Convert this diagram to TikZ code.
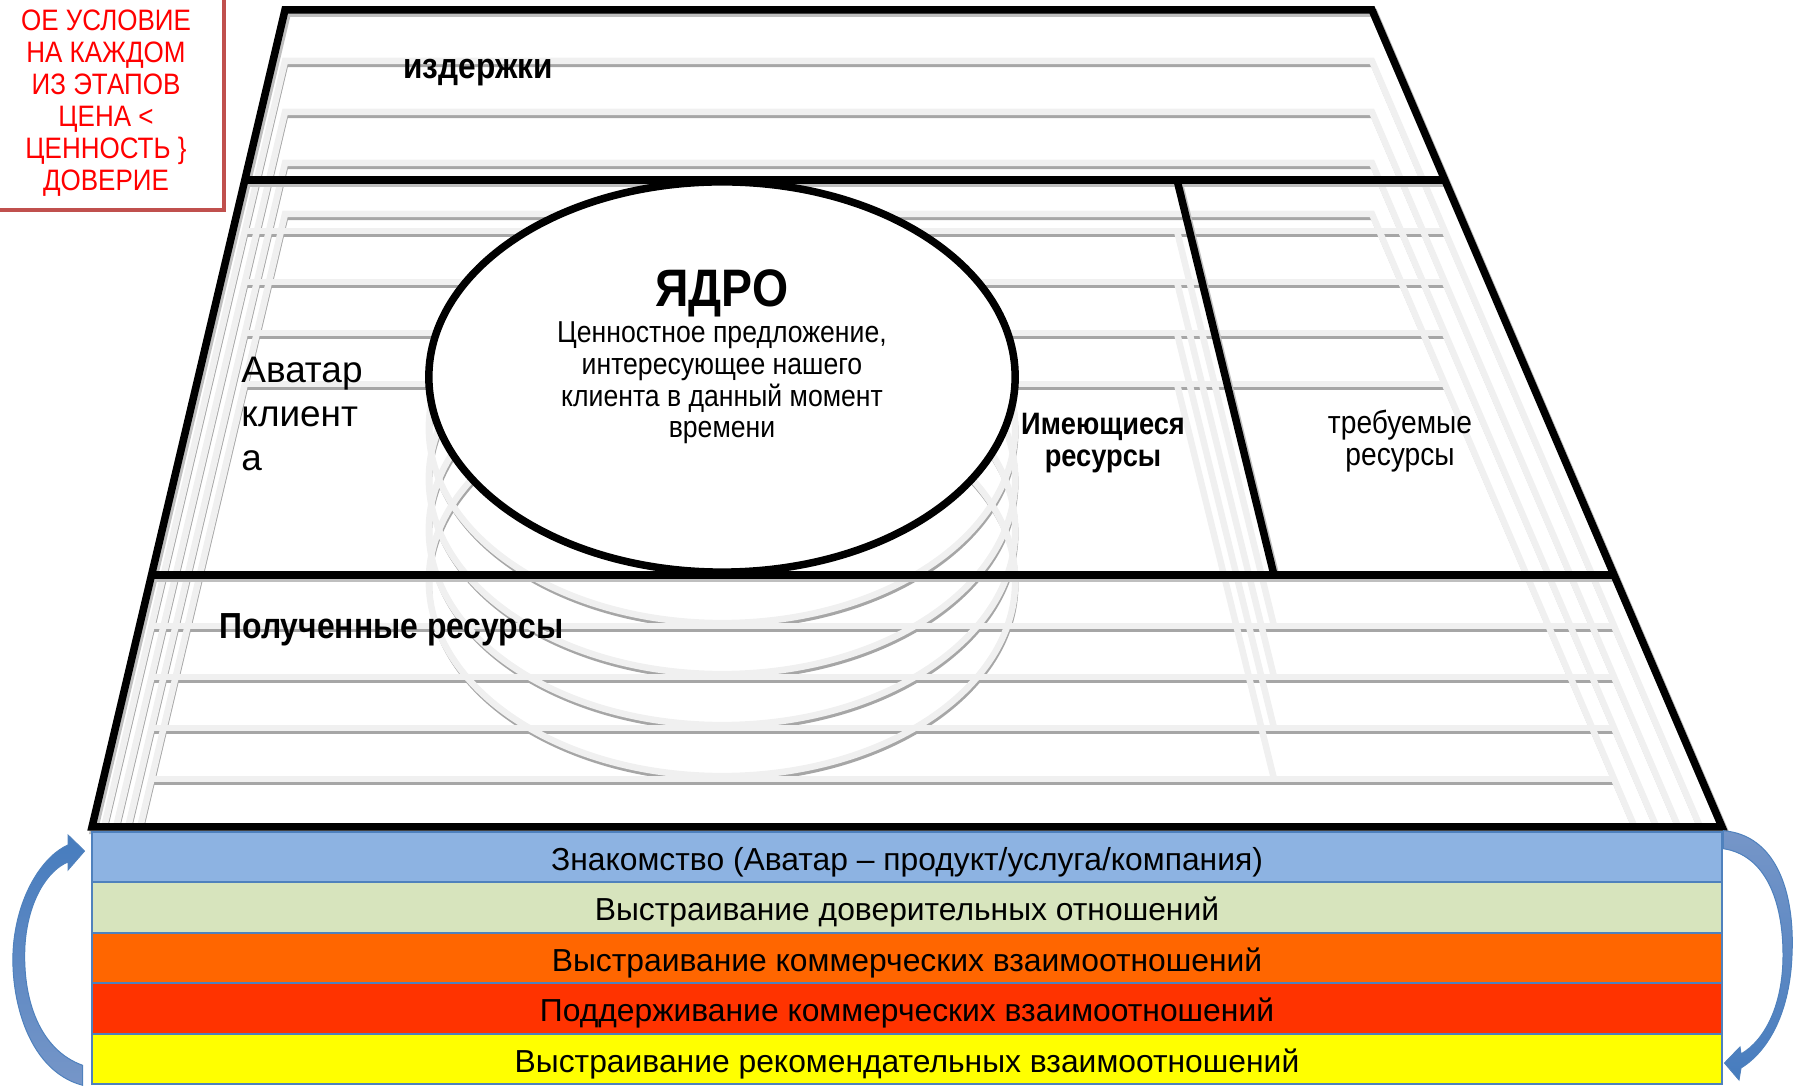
\documentclass[tikz,border=0pt]{standalone}
\usepackage{fontspec}
\setmainfont{Liberation Sans}
\newfontfamily\narrowfont[FakeStretch=0.88]{Liberation Sans}
\usetikzlibrary{shapes.geometric}

\definecolor{barblue}{RGB}{141,179,226}
\definecolor{bargreen}{RGB}{215,228,189}
\definecolor{barorange}{RGB}{255,102,0}
\definecolor{barred}{RGB}{255,51,0}
\definecolor{baryellow}{RGB}{255,255,0}
\definecolor{barline}{RGB}{79,129,189}
\definecolor{arrowblue}{RGB}{70,124,190}
\definecolor{arrowgray}{RGB}{118,150,200}
\definecolor{boxred}{RGB}{192,80,77}

% outline of the canvas, its cross lines and the core
\newcommand{\canvaslines}{%
  \draw (285,10) -- (1372,10) -- (1722,827) -- (92,827) -- cycle;
  \draw (246,180) -- (1447,180);
  \draw (153,575) -- (1613,575);
  \draw (1177,180) -- (1274,575);
  \draw (722,377) ellipse (2.93cm and 1.95cm);
}

\begin{document}
\begin{tikzpicture}[x=0.01cm, y=-0.01cm,
    frameline/.style={draw=black, line width=0.075cm},
    frameshade/.style={draw=black!25, line width=0.08cm},
    ghostline/.style={draw=black!6, line width=0.065cm},
    ghostshade/.style={draw=black!35, line width=0.045cm},
    stagebar/.style={draw=barline, line width=0.02cm, minimum width=16.3cm,
        minimum height=0.505cm, inner sep=0pt, text height=1.75ex, text depth=0.3ex,
        font=\fontsize{9.05}{11}\selectfont},
    cyclearrow/.style={draw=barline, line width=0.01cm},
    regionlabel/.style={font=\narrowfont\bfseries\fontsize{10.2}{11}\selectfont}]
    \useasboundingbox (0,0) rectangle (1800,1086);
    \clip (0,0) rectangle (1800,1086);

    % ghost copies of the canvas
    \begin{scope}
        \clip (285,10) -- (1372,10) -- (1722,827) -- (92,827) -- cycle;
        \foreach \k in {1,...,4} {
            \begin{scope}[shift={(1,\k*51+4)}, ghostshade]
                \canvaslines
            \end{scope}
        }
        \foreach \k in {1,...,4} {
            \begin{scope}[shift={(0,\k*51)}, ghostline]
                \canvaslines
            \end{scope}
        }
    \end{scope}

    % the canvas itself
    \begin{scope}[shift={(2,3)}, frameshade]
        \draw (285,10) -- (1372,10) -- (1722,827) -- (92,827) -- cycle;
        \draw (246,180) -- (1447,180);
        \draw (153,575) -- (1613,575);
        \draw (1177,180) -- (1274,575);
    \end{scope}
    \begin{scope}[frameline]
        \draw (285,10) -- (1372,10) -- (1722,827) -- (92,827) -- cycle;
        \draw (246,180) -- (1447,180);
        \draw (153,575) -- (1613,575);
        \draw (1177,180) -- (1274,575);
    \end{scope}
    \node[ellipse, draw, line width=0.075cm, fill=white, minimum width=5.86cm,
        minimum height=3.9cm, inner sep=0pt] (core) at (722,377) {};

    % labels of the canvas
    \node[regionlabel, anchor=west] (costs) at (391,73) {издержки};
    \node[font=\narrowfont\bfseries\fontsize{15}{17}\selectfont] (coretitle) at (722,293) {ЯДРО};
    \node[font=\narrowfont\fontsize{8.6}{9}\selectfont, align=center] (coretext) at (722,383)
        {Ценностное предложение,\\интересующее нашего\\клиента в данный момент\\времени};
    \node[font=\fontsize{10.5}{12.5}\selectfont, align=left, anchor=west] (avatar) at (229,414)
        {Аватар\\клиент\\а};
    \node[font=\narrowfont\bfseries\fontsize{8.8}{9}\selectfont, align=center] (have) at (1103,443)
        {Имеющиеся\\ресурсы};
    \node[font=\narrowfont\fontsize{9.1}{9}\selectfont, align=center] (need) at (1400,441)
        {требуемые\\ресурсы};
    \node[font=\narrowfont\bfseries\fontsize{10.3}{12}\selectfont, anchor=west] (got) at (207,630)
        {Полученные ресурсы};

    % stages
    \node[stagebar, fill=barblue] (acq) at (907,857) {Знакомство (Аватар – продукт/услуга/компания)};
    \node[stagebar, fill=bargreen] (trust) at (907,907.5) {Выстраивание доверительных отношений};
    \node[stagebar, fill=barorange] (comm) at (907,958) {Выстраивание коммерческих взаимоотношений};
    \node[stagebar, fill=barred] (keep) at (907,1008.5) {Поддерживание коммерческих взаимоотношений};
    \node[stagebar, fill=baryellow] (recom) at (907,1059) {Выстраивание рекомендательных взаимоотношений};

    % cycle arrows
    \path[cyclearrow, top color=arrowblue, bottom color=arrowgray]
        ([shift={(-8,0)}]recom.south west) .. controls (25,1070) and (8,990) .. (14,940)
        .. controls (20,890) and (45,855) .. (68,845) -- (68,835)
        -- ([shift={(-6,-6)}]acq.west) -- (68,870) -- (68,862)
        .. controls (48,870) and (28,900) .. (25,945)
        .. controls (22,1000) and (40,1050) .. ([shift={(-8,-20)}]recom.south west) -- cycle;
    \path[cyclearrow, top color=arrowgray, bottom color=arrowblue]
        (acq.north east) .. controls (1775,835) and (1795,890) .. (1792,955)
        .. controls (1790,1010) and (1770,1050) .. (1741,1068) -- (1739,1080)
        -- ([shift={(1,4)}]recom.east) -- (1740,1047) -- (1741,1054)
        .. controls (1765,1040) and (1783,1005) .. (1783,955)
        .. controls (1783,900) and (1765,855) .. ([shift={(0,18)}]acq.north east) -- cycle;

    % condition box
    \draw[boxred, line width=0.035cm] (-10,-10) rectangle (224,210);
    \node[text=red, align=center, font=\narrowfont\fontsize{8.4}{9.1}\selectfont] (cond) at (106,103)
        {ОЕ УСЛОВИЕ\\НА КАЖДОМ\\ИЗ ЭТАПОВ\\ЦЕНА <\\ЦЕННОСТЬ \}\\ДОВЕРИЕ};
\end{tikzpicture}
\end{document}
